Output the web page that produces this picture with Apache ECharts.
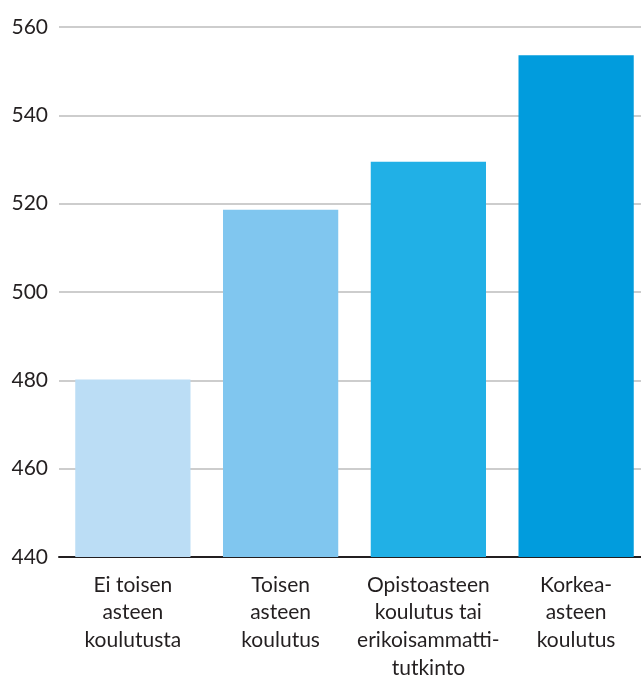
<!DOCTYPE html>
<html>
<head>
<meta charset="utf-8">
<script src="https://cdn.jsdelivr.net/npm/echarts@6/dist/echarts.min.js"></script>
<style>
html,body{margin:0;padding:0;background:#fff;}
#c{width:641px;height:677px;}
</style>
</head>
<body>
<div id="c"></div>
<script>
var categories = ["Ei toisen\nasteen\nkoulutusta", "Toisen\nasteen\nkoulutus", "Opistoasteen\nkoulutus tai\nerikoisammatti-\ntutkinto", "Korkea-\nasteen\nkoulutus"];
var values = [480.2, 518.6, 529.5, 553.6];
var barColors = ["#bbddf5", "#80c6ef", "#21b0e6", "#019cdd"];
var yTicks = [440, 460, 480, 500, 520, 540, 560];

var chart = echarts.init(document.getElementById('c'));
chart.setOption({
  animation: false,
  grid: {left: 59, top: 27, width: 591, height: 530, containLabel: false, outerBoundsMode: 'none'},
  xAxis: {
    type: 'category',
    data: categories,
    axisLine: {show: true, lineStyle: {color: '#231f20', width: 2}},
    axisTick: {show: false},
    axisLabel: {
      color: '#231f20', fontSize: 21, fontFamily: 'Lato', lineHeight: 27.7,
      margin: 14, interval: 0
    },
    splitLine: {show: false}
  },
  yAxis: {
    type: 'value',
    min: yTicks[0], max: yTicks[yTicks.length - 1], interval: 20,
    axisLine: {show: false},
    axisTick: {show: false},
    axisLabel: {color: '#231f20', fontSize: 21, fontFamily: 'Lato', margin: 11},
    splitLine: {lineStyle: {color: '#bdbdbd', width: 1.5}}
  },
  series: [{
    type: 'bar',
    data: values.map(function (v, i) { return {value: v, itemStyle: {color: barColors[i]}}; }),
    barCategoryGap: '22%'
  }]
});
</script>
</body>
</html>
